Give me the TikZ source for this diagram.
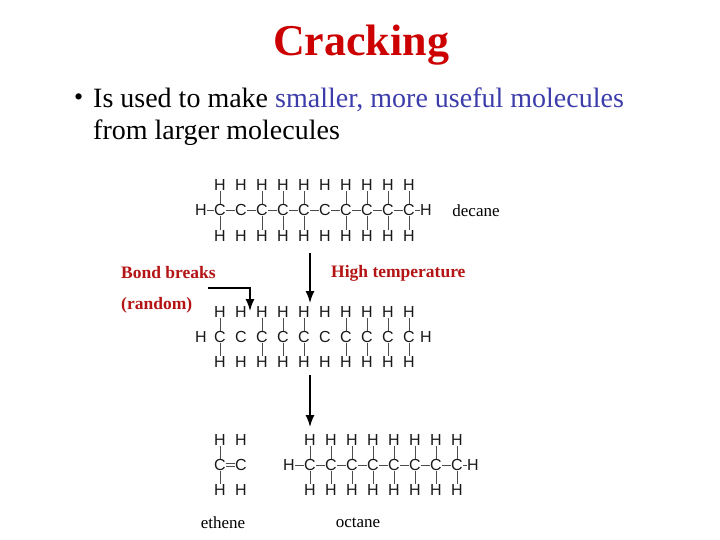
\documentclass[tikz,border=0pt]{standalone}
\usepackage{fontspec}
\usetikzlibrary{arrows.meta}
\setmainfont{Liberation Serif}
\newfontfamily\atomf{Liberation Sans}
\definecolor{tred}{RGB}{204,0,0}
\definecolor{tblue}{RGB}{60,60,170}
\definecolor{lred}{RGB}{180,20,20}
\begin{document}
\begin{tikzpicture}[x=1pt,y=-1pt,
 atom/.style={font=\atomf\fontsize{16}{16}\selectfont, inner sep=0.3pt, text=black!90},
 bnd/.style={draw=black!70, line width=0.9pt},
 arr/.style={draw=black, line width=1.4pt, -{Latex[length=12pt,width=9pt]}},
 lab/.style={font=\fontsize{17.5}{17.5}\selectfont\bfseries, text=lred, anchor=west, inner sep=0},
 molname/.style={font=\fontsize{17}{17}\selectfont}]
\useasboundingbox (0,0) rectangle (720,540);
\node[font=\fontsize{44}{44}\selectfont\bfseries, text=tred] (title) at (361,45) {Cracking};
\node[anchor=west, font=\fontsize{26}{26}\selectfont, inner sep=0] (bul) at (74,100) {•};
\node[anchor=west, font=\fontsize{28}{28}\selectfont, inner sep=0] (t1) at (93,100) {Is used to make \textcolor{tblue}{smaller, more useful molecules}};
\node[anchor=west, font=\fontsize{28}{28}\selectfont, inner sep=0] (t2) at (93,133) {from larger molecules};
% decane
\foreach \i in {1,...,10}{
 \pgfmathsetmacro\xx{220+21*(\i-1)}
 \node[atom] (dc\i) at (\xx,210) {C};
 \node[atom] (dt\i) at (\xx,185) {H};
 \node[atom] (db\i) at (\xx,236) {H};
 \ifnum\i=2\else\ifnum\i=6\else
 \draw[bnd] (dt\i) -- (dc\i) (dc\i) -- (db\i);\fi\fi}
\node[atom] (dl) at (201,210) {H};
\node[atom] (dr) at (426,210) {H};
\draw[bnd] (dl) -- (dc1);
\foreach \i [count=\j from 2] in {1,...,9}{\draw[bnd] (dc\i) -- (dc\j);}
\draw[bnd] (dc10) -- (dr);
\node[molname] (dname) at (476,211) {decane};
% middle
\foreach \i in {1,...,10}{
 \pgfmathsetmacro\xx{220+21*(\i-1)}
 \node[atom] (mc\i) at (\xx,337) {C};
 \node[atom] (mt\i) at (\xx,312) {H};
 \node[atom] (mb\i) at (\xx,362) {H};
 \ifnum\i=2\else\ifnum\i=6\else
 \draw[bnd] (mt\i) -- (mc\i) (mc\i) -- (mb\i);\fi\fi}
\node[atom] (ml) at (201,337) {H};
\node[atom] (mr) at (426,337) {H};
% labels and arrows
\node[lab] (bb) at (121,273) {Bond breaks};
\node[lab] (rnd) at (121,305) {(random)};
\node[lab] (ht) at (331,273) {High temperature};
\coordinate (b0) at (208,288);
\coordinate (b1) at (250,288);
\coordinate (b2) at (250,311);
\draw[arr] (b0) -- (b1) -- (b2);
\coordinate (h0) at (310,253);
\coordinate (h1) at (310,303);
\draw[arr] (h0) -- (h1);
\coordinate (m0) at (310,375);
\coordinate (m1) at (310,427);
\draw[arr] (m0) -- (m1);
% ethene
\node[atom] (ec1) at (220,465) {C};
\node[atom] (ec2) at (241,465) {C};
\node[atom] (et1) at (220,440) {H};
\node[atom] (et2) at (241,440) {H};
\node[atom] (eb1) at (220,490) {H};
\node[atom] (eb2) at (241,490) {H};
\draw[bnd] (et1) -- (ec1) -- (eb1);
\draw[bnd] ([yshift=-1.8]ec1.east) -- ([yshift=-1.8]ec2.west);
\draw[bnd] ([yshift=1.8]ec1.east) -- ([yshift=1.8]ec2.west);
\node[molname] (ename) at (223,523) {ethene};
% octane
\foreach \i in {1,...,8}{
 \pgfmathsetmacro\xx{310+21*(\i-1)}
 \node[atom] (oc\i) at (\xx,465) {C};
 \node[atom] (ot\i) at (\xx,440) {H};
 \node[atom] (ob\i) at (\xx,490) {H};
 \draw[bnd] (ot\i) -- (oc\i) (oc\i) -- (ob\i);}
\node[atom] (ol) at (289,465) {H};
\node[atom] (or) at (473,465) {H};
\draw[bnd] (ol) -- (oc1);
\foreach \i [count=\j from 2] in {1,...,7}{\draw[bnd] (oc\i) -- (oc\j);}
\draw[bnd] (oc8) -- (or);
\node[molname] (oname) at (358,523) {octane};
\end{tikzpicture}
\end{document}
